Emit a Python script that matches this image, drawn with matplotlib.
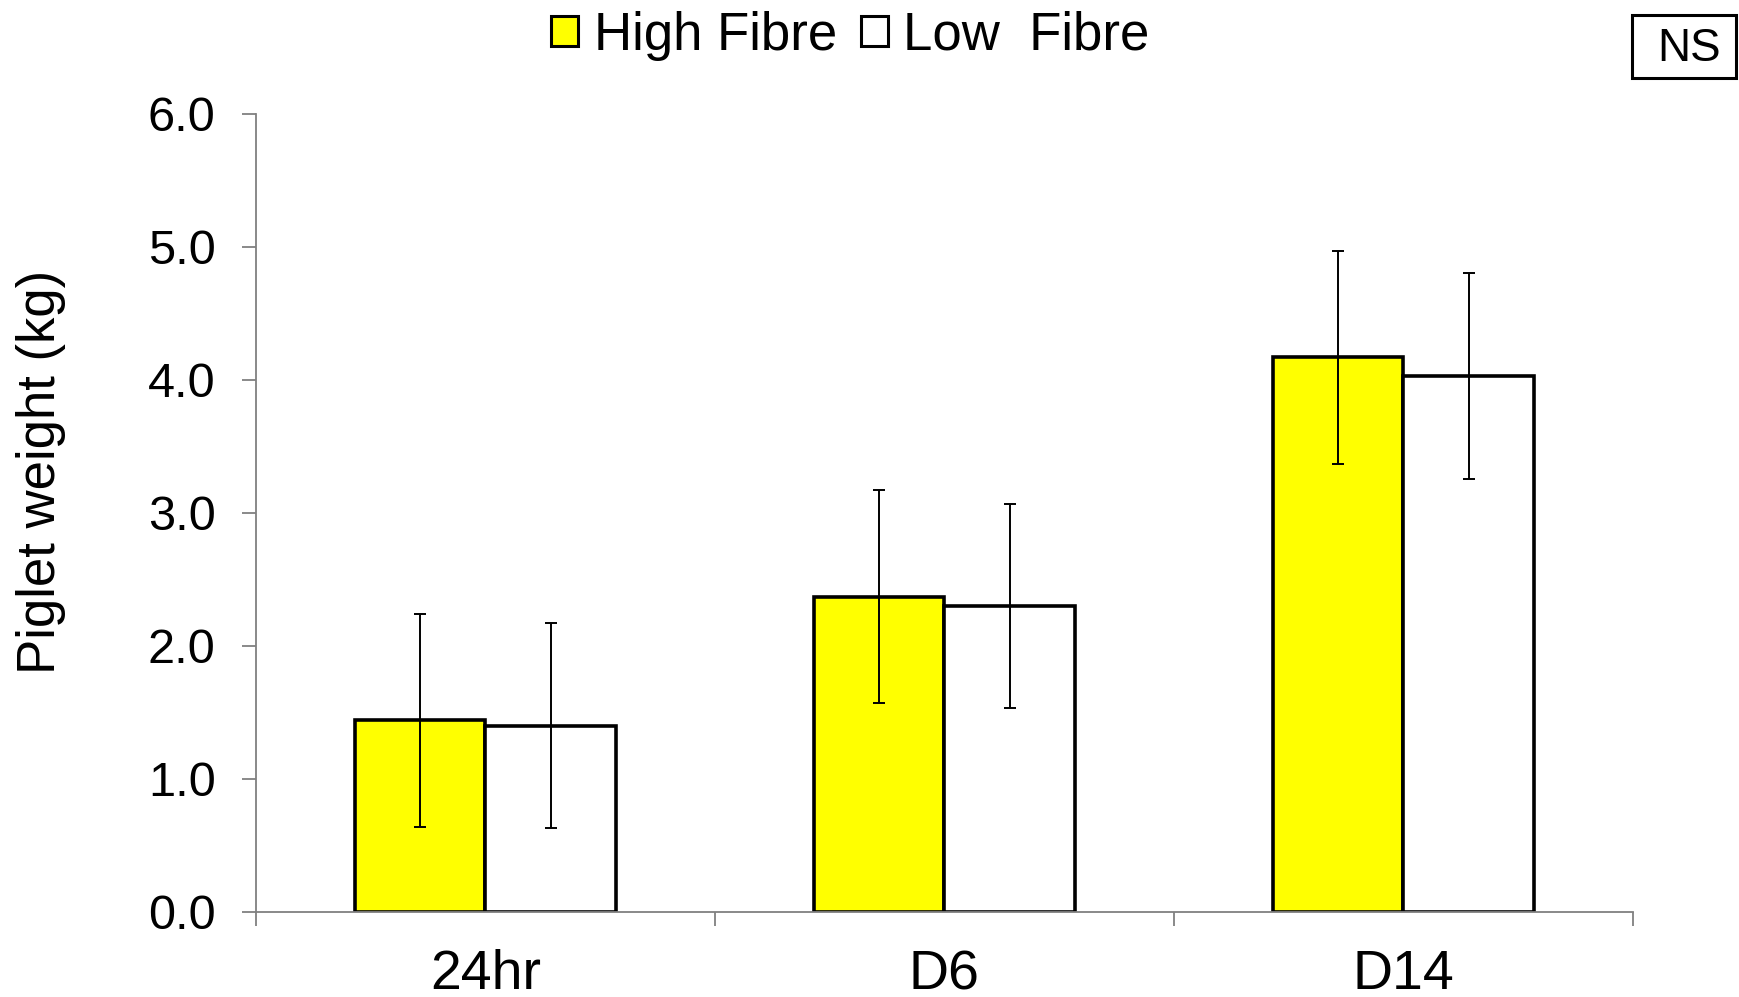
import numpy as np
import matplotlib
matplotlib.use("Agg")
import matplotlib.pyplot as plt
from matplotlib.patches import Patch, Rectangle

plt.rcParams['font.family'] = ['Liberation Sans', 'DejaVu Sans']

# data
categories = ["24hr", "D6", "D14"]
high_fibre = [1.44, 2.37, 4.17]
high_err = [0.80, 0.80, 0.80]
low_fibre = [1.40, 2.30, 4.03]
low_err = [0.77, 0.77, 0.775]
series_labels = ["High Fibre", "Low  Fibre"]

fig = plt.figure(figsize=(17.39, 9.97), dpi=100)
ax = fig.add_axes([0.1472, 0.0853, 0.7918, 0.8004])

x = np.arange(len(categories)) + 0.5
w = 0.285
ax.bar(x - w / 2, high_fibre, w, color='#ffff00', edgecolor='black', linewidth=2.6, zorder=2)
ax.bar(x + w / 2, low_fibre, w, color='white', edgecolor='black', linewidth=2.6, zorder=2)
ax.errorbar(x - w / 2, high_fibre, yerr=high_err, fmt='none', ecolor='black',
            elinewidth=1.4, capsize=4.5, capthick=1.4, zorder=3)
ax.errorbar(x + w / 2, low_fibre, yerr=low_err, fmt='none', ecolor='black',
            elinewidth=1.4, capsize=4.5, capthick=1.4, zorder=3)

ax.set_xlim(0, 3)
ax.set_ylim(0, 6)
ax.set_yticks(np.arange(0, 6.1, 1.0))
ax.set_yticklabels(["%.1f" % v for v in np.arange(0, 6.1, 1.0)], fontsize=35)
ax.set_xticks([0, 1, 2, 3])
ax.set_xticklabels([])
ax.set_xticks(x, minor=True)
ax.set_xticklabels(categories, minor=True, fontsize=40)
ax.tick_params(axis='x', which='minor', length=0, pad=27)
ax.tick_params(axis='x', which='major', length=10, width=1.3, color='#808080')
ax.tick_params(axis='y', length=10, width=1.3, color='#808080', pad=19)

for s in ['top', 'right']:
    ax.spines[s].set_visible(False)
for s in ['left', 'bottom']:
    ax.spines[s].set_color('#808080')
    ax.spines[s].set_linewidth(1.3)

ax.set_ylabel("Piglet weight (kg)", fontsize=38)
ax.yaxis.set_label_coords(-0.138, 0.551)

handles = [Patch(facecolor='#ffff00', edgecolor='black', linewidth=2.2),
           Patch(facecolor='white', edgecolor='black', linewidth=2.2)]
fig.legend(handles, series_labels, loc='upper center', bbox_to_anchor=(0.489, 1.037),
           ncol=2, frameon=False, fontsize=38, handlelength=0.51, handleheight=0.51,
           handletextpad=0.3, columnspacing=0.45)

# NS box in the top right corner
fig.patches.append(Rectangle((0.9385, 0.922), 0.0595, 0.0625, transform=fig.transFigure,
                             facecolor='white', edgecolor='black', linewidth=2.2))
fig.text(0.971, 0.951, "NS", fontsize=33, ha='center', va='center')

fig.savefig("out.png", dpi=100)
